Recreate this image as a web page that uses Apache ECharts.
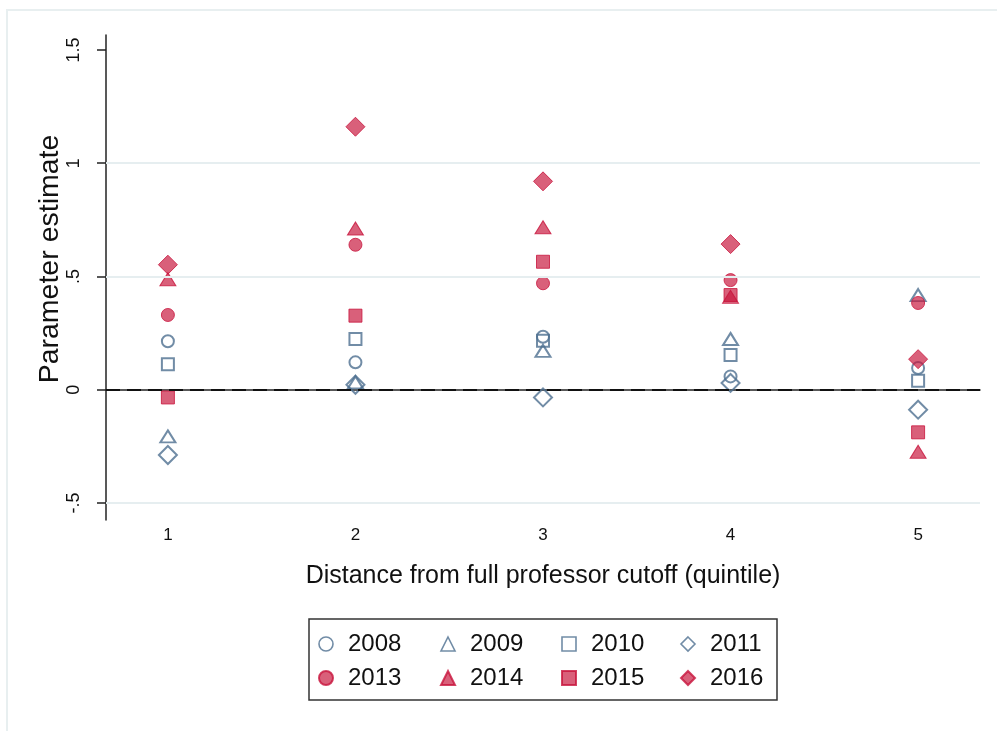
<!DOCTYPE html>
<html>
<head>
<meta charset="utf-8">
<script src="https://cdn.jsdelivr.net/npm/echarts@6/dist/echarts.min.js"></script>
<style>
  html, body { margin: 0; padding: 0; background: #fff; }
  #chart { width: 997px; height: 731px; }
</style>
</head>
<body>
<div id="chart"></div>
<script>
// quintiles on the x axis
const quintiles = [1, 2, 3, 4, 5]
const yTicks = [-0.5, 0, 0.5, 1, 1.5]

// parameter estimates per year, one value per quintile
const years = ['2008', '2009', '2010', '2011', '2013', '2014', '2015', '2016']
const est2008 = [0.214, 0.121, 0.234, 0.059, 0.096]
const est2009 = [-0.206, 0.033, 0.172, 0.224, 0.418]
const est2010 = [0.113, 0.224, 0.216, 0.153, 0.040]
const est2011 = [-0.288, 0.022, -0.034, 0.030, -0.088]
const est2013 = [0.330, 0.640, 0.470, 0.484, 0.383]
const est2014 = [0.488, 0.712, 0.717, 0.410, -0.274]
const est2015 = [-0.034, 0.327, 0.565, 0.418, -0.188]
const est2016 = [0.552, 1.161, 0.920, 0.643, 0.135]

const navy = '#4e6f90'
const red = '#c8143c'
const redFill = 'rgba(200, 22, 60, 0.85)'
const font = '"Liberation Sans", Arial, sans-serif'

function pts (vals) {
  return vals.map((v, i) => [quintiles[i], v])
}

function hollow (name, vals, symbol, size) {
  return {
    name: name,
    type: 'scatter',
    symbol: symbol,
    symbolSize: size,
    data: pts(vals),
    itemStyle: { color: 'rgba(255,255,255,0)', borderColor: navy, borderWidth: 2 },
    z: 3
  }
}

function solid (name, vals, symbol, size) {
  return {
    name: name,
    type: 'scatter',
    symbol: symbol,
    symbolSize: size,
    data: pts(vals),
    itemStyle: { color: redFill, borderColor: red, borderWidth: 1 },
    z: 4
  }
}

const series = [
  hollow('2008', est2008, 'circle', 12),
  hollow('2009', est2009, 'triangle', [15, 12]),
  hollow('2010', est2010, 'rect', 12),
  hollow('2011', est2011, 'diamond', [18, 18]),
  solid('2013', est2013, 'circle', 13),
  solid('2014', est2014, 'triangle', [16, 13]),
  solid('2015', est2015, 'rect', 13),
  solid('2016', est2016, 'diamond', [19, 19])
]

// light grid lines and the dashed zero line
series[0].markLine = {
  silent: true,
  symbol: 'none',
  label: { show: false },
  animation: false,
  data: [
    { yAxis: -0.5, lineStyle: { color: '#e6eef0', width: 2, type: 'solid' } },
    { yAxis: 0.5, lineStyle: { color: '#e6eef0', width: 2, type: 'solid' } },
    { yAxis: 1, lineStyle: { color: '#e6eef0', width: 2, type: 'solid' } },
    { yAxis: 0, lineStyle: { color: '#111', width: 2.2, type: [14, 7] } }
  ]
}

// one small legend per column, two rows each
const colLeft = [318, 440, 561, 680]
const legends = colLeft.map((x, i) => ({
  data: [
    { name: years[i], itemStyle: { borderWidth: 1.6 } },
    { name: years[i + 4] }
  ],
  orient: 'vertical',
  left: x,
  top: 632,
  padding: 0,
  itemGap: 10,
  itemWidth: 14,
  itemHeight: 14,
  textStyle: { fontSize: 24, color: '#111', fontFamily: font, padding: [0, 0, 0, 10] },
  selectedMode: false
}))

const chart = echarts.init(document.getElementById('chart'))
chart.setOption({
  animation: false,
  textStyle: { fontFamily: font },
  grid: { left: 106, right: 17, top: 35, bottom: 211 },
  xAxis: {
    type: 'value',
    min: 0.67,
    max: 5.33,
    name: 'Distance from full professor cutoff (quintile)',
    nameLocation: 'middle',
    nameGap: 44,
    nameTextStyle: { fontSize: 25, color: '#111', fontFamily: font },
    axisLine: { lineStyle: { color: '#222', width: 1.5 } },
    axisTick: { show: false },
    splitLine: { show: false },
    axisLabel: { customValues: quintiles, fontSize: 17, color: '#111', margin: 7 }
  },
  yAxis: {
    type: 'value',
    min: -0.575,
    max: 1.566,
    axisLine: { show: true, lineStyle: { color: '#222', width: 1.5 } },
    axisTick: { show: true, customValues: yTicks, length: 9, lineStyle: { color: '#222', width: 1.5 } },
    splitLine: { show: false },
    axisLabel: {
      customValues: yTicks,
      rotate: 90,
      fontSize: 18,
      color: '#111',
      margin: 23,
      formatter: function (v) {
        if (v === 0) return '0'
        return String(v).replace('0.', '.')
      }
    }
  },
  legend: legends,
  graphic: [
    { type: 'rect', shape: { x: 6, y: 9, width: 1000, height: 2 }, style: { fill: '#e8eff0' } },
    { type: 'rect', shape: { x: 6, y: 9, width: 2, height: 730 }, style: { fill: '#e8eff0' } },
    { type: 'rect', shape: { x: 309, y: 619, width: 468, height: 81 }, style: { fill: 'none', stroke: '#333', lineWidth: 1.5 } },
    {
      type: 'text',
      x: 50,
      y: 259,
      rotation: Math.PI / 2,
      style: { text: 'Parameter estimate', font: '28.5px ' + font, fill: '#111', textAlign: 'center', textVerticalAlign: 'middle' }
    }
  ],
  series: series
})
</script>
</body>
</html>
